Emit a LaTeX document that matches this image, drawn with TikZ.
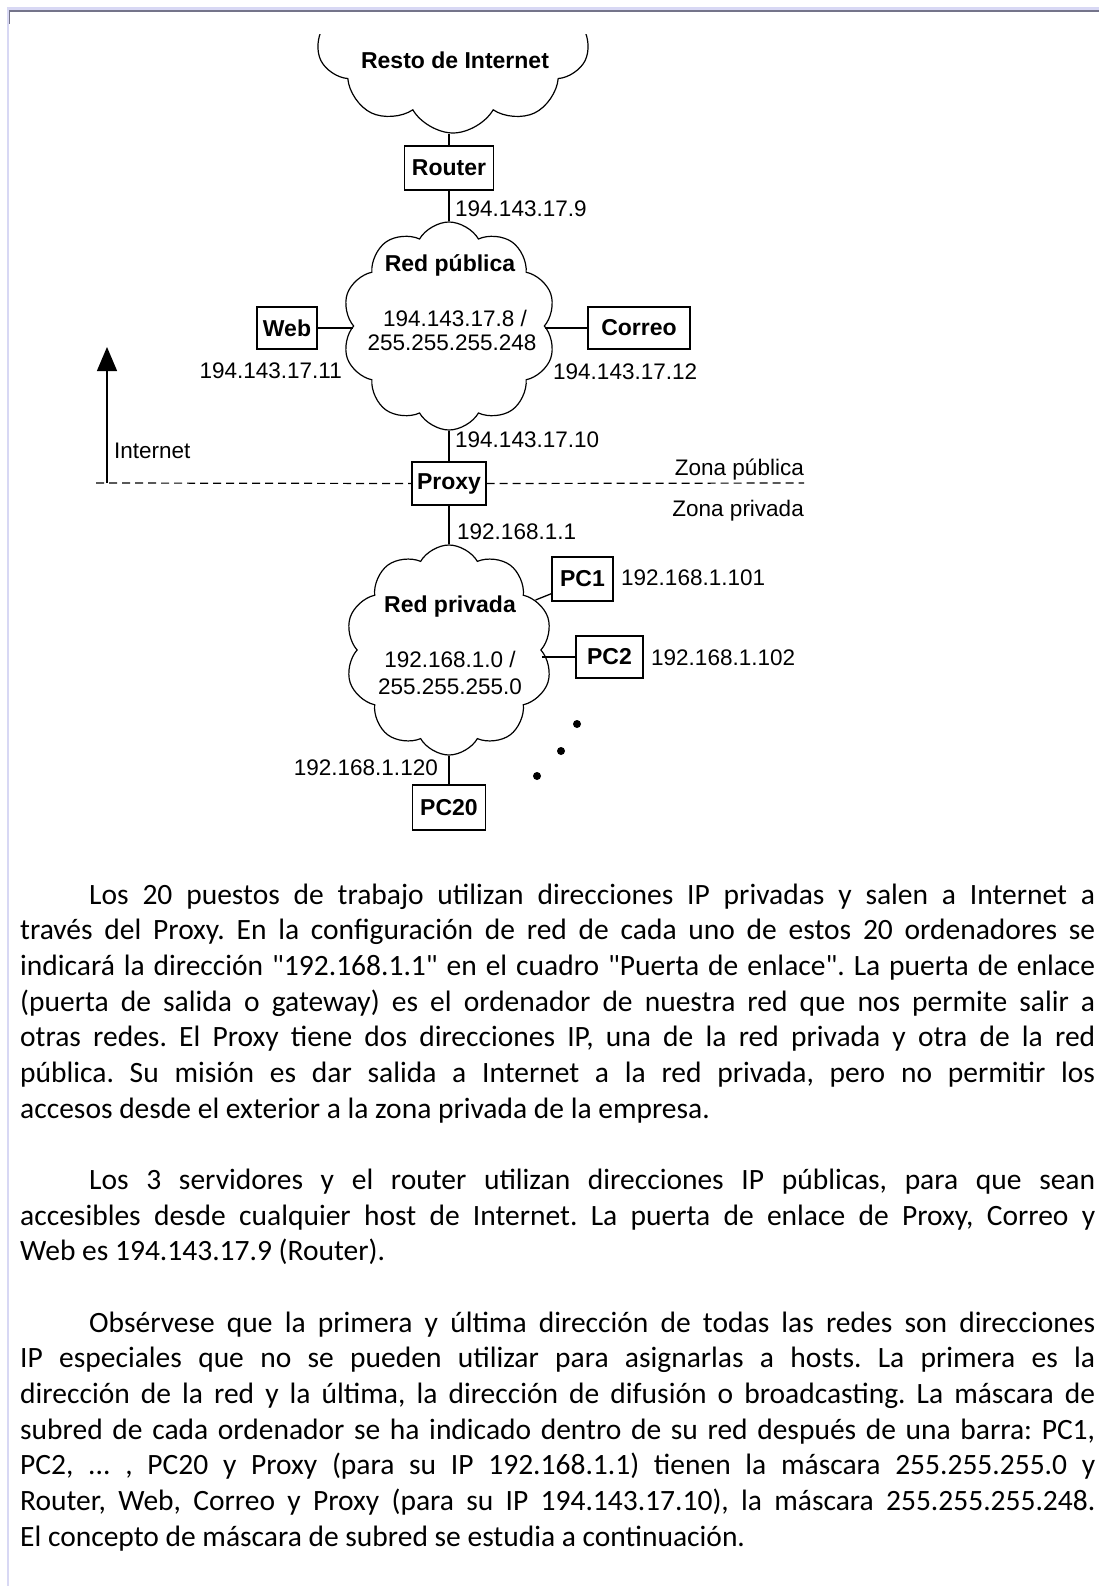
\documentclass[tikz,border=0pt]{standalone}
\usepackage{fontspec}
\setmainfont{Liberation Sans}
\newfontfamily\bodyfont{Carlito}
\usetikzlibrary{shapes.symbols,arrows.meta}

\definecolor{framelight}{HTML}{D8D8F4}
\definecolor{framedark}{HTML}{74748A}

\tikzset{
  wire/.style={line width=1.3pt, black},
  zoneline/.style={line width=1.2pt, black, dash pattern=on 8pt off 5pt},
  hostbox/.style={draw, rectangle, line width=1.4pt, inner sep=0pt,
    font=\fontsize{23}{27}\selectfont\bfseries},
  iplabel/.style={inner sep=0pt, font=\fontsize{22.5}{26}\selectfont},
  netcloud/.style={cloud, draw, line width=1.2pt, cloud puffs=10,
    cloud puff arc=120, cloud ignores aspect, inner sep=0pt},
  cloudtitle/.style={inner sep=0pt, font=\fontsize{23}{27}\selectfont\bfseries},
  parline/.style={anchor=base west, inner sep=0pt,
    font=\bodyfont\fontsize{29.5}{34}\selectfont\frenchspacing},
}

\newcommand\fullline[1]{\makebox[1075pt][s]{#1}}
\newcommand\indline[1]{\makebox[1006pt][s]{#1}}

\begin{document}
\begin{tikzpicture}[x=1pt, y=-1pt]
\useasboundingbox (0,0) rectangle (1099,1586);
\fill[white] (0,0) rectangle (1099,1586);

% page frame
\fill[framelight] (6.5,7.5) rectangle (1099,10);
\fill[framelight] (6.5,7.5) rectangle (8.7,1586);
\fill[framedark] (8.5,10) rectangle (1099,12.5);
\fill[framedark] (8.5,10) rectangle (10,24);

% networks
\begin{scope}
  \clip (0,35) rectangle (1099,1586);
  \node[netcloud, minimum width=278pt, minimum height=210pt] (inet) at (453,28) {};
\end{scope}
\node[cloudtitle] (inettxt) at (455,60) {Resto de Internet};

\node[netcloud, minimum width=214pt, minimum height=208pt] (pubnet) at (449,326) {};
\node[cloudtitle] (pubtxt) at (450,265) {Red pública};
\node[iplabel] (pubip) at (455,318) {194.143.17.8 /};
\node[iplabel] (pubmask) at (452,343) {255.255.255.248};

\node[netcloud, minimum width=208pt, minimum height=210pt] (privnet) at (449,650) {};
\node[cloudtitle] (privtxt) at (450,607) {Red privada};
\node[iplabel] (privip) at (450,659) {192.168.1.0 /};
\node[iplabel] (privmask) at (450,687) {255.255.255.0};

% hosts
\node[hostbox, minimum width=89pt, minimum height=44pt] (router) at (449,168) {Router};
\node[hostbox, minimum width=60pt, minimum height=42pt] (web) at (287,328) {Web};
\node[hostbox, minimum width=102pt, minimum height=42pt] (correo) at (639,328) {Correo};
\node[hostbox, minimum width=74pt, minimum height=43pt, fill=white] (proxy) at (449,483.5) {Proxy};
\node[hostbox, minimum width=61pt, minimum height=44pt] (pc1) at (582.5,579) {PC1};
\node[hostbox, minimum width=67pt, minimum height=42pt] (pc2) at (609.5,657) {PC2};
\node[hostbox, minimum width=73pt, minimum height=45pt] (pc20) at (449,807.5) {PC20};

% links
\draw[wire] (router.north) -- (router.north |- inet.south);
\draw[wire] (router.south) -- (router.south |- pubnet.north);
\draw[wire] (web.east) -- (web.east -| pubnet.west);
\draw[wire] (correo.west) -- (correo.west -| pubnet.east);
\draw[wire] (proxy.north) -- (proxy.north |- pubnet.south);
\draw[wire] (proxy.south) -- (proxy.south |- privnet.north);
\draw[wire] ([yshift=8pt]pc1.south west) -- (privnet.30);
\draw[wire] (pc2.west) -- (pc2.west -| privnet.east);
\draw[wire] (pc20.north) -- (pc20.north |- privnet.south);

% more hosts
\fill (577,724) circle (4);
\fill (561,751) circle (4);
\fill (537,776) circle (4);

% addresses
\node[iplabel, anchor=west] (ip9) at (455,209) {194.143.17.9};
\node[iplabel, anchor=east] (ip11) at (342,371) {194.143.17.11};
\node[iplabel, anchor=west] (ip12) at (553,372) {194.143.17.12};
\node[iplabel, anchor=west] (ip10) at (455,440) {194.143.17.10};
\node[iplabel, anchor=west] (ip1) at (457,532) {192.168.1.1};
\node[iplabel, anchor=west] (ip101) at (621,578) {192.168.1.101};
\node[iplabel, anchor=west] (ip102) at (651,658) {192.168.1.102};
\node[iplabel, anchor=east] (ip120) at (438,768) {192.168.1.120};

% public / private boundary
\coordinate (zoneL) at (96,483);
\coordinate (zoneR) at (804,483);
\draw[zoneline] (zoneL) -- (proxy.west);
\draw[zoneline] (proxy.east) -- (zoneR);
\node[iplabel, anchor=base east] (zpub) at (804,475) {Zona pública};
\node[iplabel, anchor=base east] (zpriv) at (804,516) {Zona privada};

\coordinate (upfoot) at (107,483);
\coordinate (uptip) at (107,347);
\draw[wire, -{Triangle[width=20pt,length=24pt]}] (upfoot) -- (uptip);
\node[iplabel, anchor=base west] (inetlbl) at (114,458) {Internet};

% explanatory text
\node[parline] (p1a) at (89,904) {\indline{Los 20 puestos de trabajo utilizan direcciones IP privadas y salen a Internet a}};
\node[parline] (p1b) at (20,939.67) {\fullline{través del Proxy. En la configuración de red de cada uno de estos 20 ordenadores se}};
\node[parline] (p1c) at (20,975.34) {\fullline{indicará la dirección "192.168.1.1" en el cuadro "Puerta de enlace". La puerta de enlace}};
\node[parline] (p1d) at (20,1011.01) {\fullline{(puerta de salida o gateway) es el ordenador de nuestra red que nos permite salir a}};
\node[parline] (p1e) at (20,1046.68) {\fullline{otras redes. El Proxy tiene dos direcciones IP, una de la red privada y otra de la red}};
\node[parline] (p1f) at (20,1082.35) {\fullline{pública. Su misión es dar salida a Internet a la red privada, pero no permitir los}};
\node[parline] (p1g) at (20,1118.02) {accesos desde el exterior a la zona privada de la empresa.};

\node[parline] (p2a) at (89,1189.36) {\indline{Los 3 servidores y el router utilizan direcciones IP públicas, para que sean}};
\node[parline] (p2b) at (20,1225.03) {\fullline{accesibles desde cualquier host de Internet. La puerta de enlace de Proxy, Correo y}};
\node[parline] (p2c) at (20,1260.70) {Web es 194.143.17.9 (Router).};

\node[parline] (p3a) at (89,1332.04) {\indline{Obsérvese que la primera y última dirección de todas las redes son direcciones}};
\node[parline] (p3b) at (20,1367.71) {\fullline{IP especiales que no se pueden utilizar para asignarlas a hosts. La primera es la}};
\node[parline] (p3c) at (20,1403.38) {\fullline{dirección de la red y la última, la dirección de difusión o broadcasting. La máscara de}};
\node[parline] (p3d) at (20,1439.05) {\fullline{subred de cada ordenador se ha indicado dentro de su red después de una barra: PC1,}};
\node[parline] (p3e) at (20,1474.72) {\fullline{PC2, ... , PC20 y Proxy (para su IP 192.168.1.1) tienen la máscara 255.255.255.0 y}};
\node[parline] (p3f) at (20,1510.39) {\fullline{Router, Web, Correo y Proxy (para su IP 194.143.17.10), la máscara 255.255.255.248.}};
\node[parline] (p3g) at (20,1546.06) {El concepto de máscara de subred se estudia a continuación.};
\end{tikzpicture}
\end{document}
